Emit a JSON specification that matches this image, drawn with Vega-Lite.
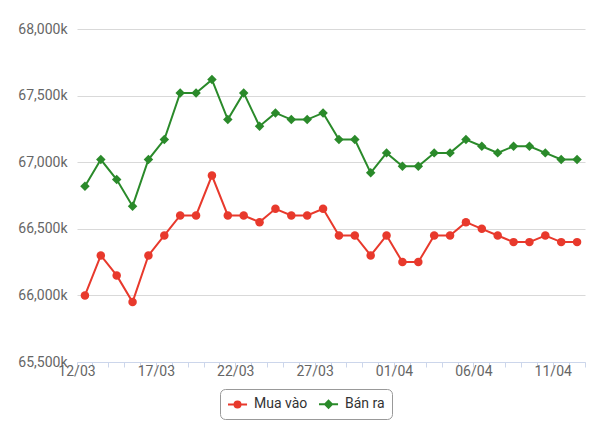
{
  "$schema": "https://vega.github.io/schema/vega-lite/v6.json",
  "autosize": "none",
  "width": 508,
  "height": 333,
  "padding": {"left": 77, "top": 29, "right": 15, "bottom": 69},
  "background": "white",
  "config": {
    "view": {"stroke": null},
    "font": "Roboto",
    "legend": {
      "title": null,
      "orient": "none",
      "legendX": 143,
      "legendY": 360,
      "direction": "horizontal",
      "strokeColor": "#999999",
      "cornerRadius": 5,
      "fillColor": "white",
      "padding": 7,
      "symbolSize": 196,
      "symbolStrokeWidth": 2,
      "symbolOpacity": 1,
      "labelFontSize": 14,
      "labelColor": "#333333",
      "labelFont": "Roboto",
      "labelOffset": 11,
      "columnPadding": 7
    }
  },
  "datasets": {
    "gia": [
      {"ngay": "12/03", "loai": "Mua vào", "gia": 66000},
      {"ngay": "13/03", "loai": "Mua vào", "gia": 66300},
      {"ngay": "14/03", "loai": "Mua vào", "gia": 66150},
      {"ngay": "15/03", "loai": "Mua vào", "gia": 65950},
      {"ngay": "16/03", "loai": "Mua vào", "gia": 66300},
      {"ngay": "17/03", "loai": "Mua vào", "gia": 66450},
      {"ngay": "18/03", "loai": "Mua vào", "gia": 66600},
      {"ngay": "19/03", "loai": "Mua vào", "gia": 66600},
      {"ngay": "20/03", "loai": "Mua vào", "gia": 66900},
      {"ngay": "21/03", "loai": "Mua vào", "gia": 66600},
      {"ngay": "22/03", "loai": "Mua vào", "gia": 66600},
      {"ngay": "23/03", "loai": "Mua vào", "gia": 66550},
      {"ngay": "24/03", "loai": "Mua vào", "gia": 66650},
      {"ngay": "25/03", "loai": "Mua vào", "gia": 66600},
      {"ngay": "26/03", "loai": "Mua vào", "gia": 66600},
      {"ngay": "27/03", "loai": "Mua vào", "gia": 66650},
      {"ngay": "28/03", "loai": "Mua vào", "gia": 66450},
      {"ngay": "29/03", "loai": "Mua vào", "gia": 66450},
      {"ngay": "30/03", "loai": "Mua vào", "gia": 66300},
      {"ngay": "31/03", "loai": "Mua vào", "gia": 66450},
      {"ngay": "01/04", "loai": "Mua vào", "gia": 66250},
      {"ngay": "02/04", "loai": "Mua vào", "gia": 66250},
      {"ngay": "03/04", "loai": "Mua vào", "gia": 66450},
      {"ngay": "04/04", "loai": "Mua vào", "gia": 66450},
      {"ngay": "05/04", "loai": "Mua vào", "gia": 66550},
      {"ngay": "06/04", "loai": "Mua vào", "gia": 66500},
      {"ngay": "07/04", "loai": "Mua vào", "gia": 66450},
      {"ngay": "08/04", "loai": "Mua vào", "gia": 66400},
      {"ngay": "09/04", "loai": "Mua vào", "gia": 66400},
      {"ngay": "10/04", "loai": "Mua vào", "gia": 66450},
      {"ngay": "11/04", "loai": "Mua vào", "gia": 66400},
      {"ngay": "12/04", "loai": "Mua vào", "gia": 66400},
      {"ngay": "12/03", "loai": "Bán ra", "gia": 66820},
      {"ngay": "13/03", "loai": "Bán ra", "gia": 67020},
      {"ngay": "14/03", "loai": "Bán ra", "gia": 66870},
      {"ngay": "15/03", "loai": "Bán ra", "gia": 66670},
      {"ngay": "16/03", "loai": "Bán ra", "gia": 67020},
      {"ngay": "17/03", "loai": "Bán ra", "gia": 67170},
      {"ngay": "18/03", "loai": "Bán ra", "gia": 67520},
      {"ngay": "19/03", "loai": "Bán ra", "gia": 67520},
      {"ngay": "20/03", "loai": "Bán ra", "gia": 67620},
      {"ngay": "21/03", "loai": "Bán ra", "gia": 67320},
      {"ngay": "22/03", "loai": "Bán ra", "gia": 67520},
      {"ngay": "23/03", "loai": "Bán ra", "gia": 67270},
      {"ngay": "24/03", "loai": "Bán ra", "gia": 67370},
      {"ngay": "25/03", "loai": "Bán ra", "gia": 67320},
      {"ngay": "26/03", "loai": "Bán ra", "gia": 67320},
      {"ngay": "27/03", "loai": "Bán ra", "gia": 67370},
      {"ngay": "28/03", "loai": "Bán ra", "gia": 67170},
      {"ngay": "29/03", "loai": "Bán ra", "gia": 67170},
      {"ngay": "30/03", "loai": "Bán ra", "gia": 66920},
      {"ngay": "31/03", "loai": "Bán ra", "gia": 67070},
      {"ngay": "01/04", "loai": "Bán ra", "gia": 66970},
      {"ngay": "02/04", "loai": "Bán ra", "gia": 66970},
      {"ngay": "03/04", "loai": "Bán ra", "gia": 67070},
      {"ngay": "04/04", "loai": "Bán ra", "gia": 67070},
      {"ngay": "05/04", "loai": "Bán ra", "gia": 67170},
      {"ngay": "06/04", "loai": "Bán ra", "gia": 67120},
      {"ngay": "07/04", "loai": "Bán ra", "gia": 67070},
      {"ngay": "08/04", "loai": "Bán ra", "gia": 67120},
      {"ngay": "09/04", "loai": "Bán ra", "gia": 67120},
      {"ngay": "10/04", "loai": "Bán ra", "gia": 67070},
      {"ngay": "11/04", "loai": "Bán ra", "gia": 67020},
      {"ngay": "12/04", "loai": "Bán ra", "gia": 67020}
    ]
  },
  "data": {"name": "gia"},
  "encoding": {
    "x": {
      "field": "ngay",
      "type": "ordinal",
      "sort": null,
      "scale": {"type": "band", "paddingInner": 0, "paddingOuter": 0},
      "axis": {
        "title": null,
        "bandPosition": 1,
        "tickExtra": true,
        "labelOffset": -7.94,
        "labelAngle": 0,
        "labelOverlap": false,
        "labelExpr": "indexof(['12/03','17/03','22/03','27/03','01/04','06/04','11/04'], datum.value) >= 0 ? datum.value : ''",
        "labelFontSize": 14,
        "labelColor": "#666666",
        "labelFont": "Roboto",
        "labelPadding": -3,
        "tickSize": 5,
        "tickColor": "#ccd6eb",
        "domainColor": "#ccd6eb",
        "grid": false
      }
    },
    "y": {
      "field": "gia",
      "type": "quantitative",
      "scale": {"domain": [65500, 68000], "nice": false, "zero": false},
      "axis": {
        "title": null,
        "values": [65500, 66000, 66500, 67000, 67500, 68000],
        "labelExpr": "format(datum.value, ',') + 'k'",
        "labelFontSize": 14,
        "labelColor": "#666666",
        "labelFont": "Roboto",
        "labelPadding": 10,
        "ticks": false,
        "domain": false,
        "grid": true,
        "gridColor": "#d9d9d9",
        "gridWidth": 1
      }
    },
    "color": {
      "field": "loai",
      "type": "nominal",
      "scale": {"domain": ["Mua vào", "Bán ra"], "range": ["#e8392c", "#2a8a2a"]}
    }
  },
  "layer": [
    {"mark": {"type": "line", "strokeWidth": 2}},
    {
      "transform": [{"filter": "datum.loai === 'Mua vào'"}],
      "mark": {"type": "point", "shape": "circle", "filled": true, "opacity": 1, "size": 72}
    },
    {
      "transform": [{"filter": "datum.loai === 'Bán ra'"}],
      "mark": {"type": "point", "shape": "diamond", "filled": true, "opacity": 1, "size": 90}
    },
    {
      "transform": [{"filter": "false"}],
      "mark": {"type": "point", "filled": false, "strokeWidth": 2},
      "encoding": {
        "shape": {
          "field": "loai",
          "type": "nominal",
          "scale": {
            "domain": ["Mua vào", "Bán ra"],
            "range": [
              "M-1,0H1.72M0.79,0A0.43,0.43,0,1,1,-0.07,0A0.43,0.43,0,1,1,0.79,0ZM0.53,0A0.17,0.17,0,1,1,0.19,0A0.17,0.17,0,1,1,0.53,0Z",
              "M-1,0H1.72M0.36,-0.5L0.86,0L0.36,0.5L-0.14,0ZM0.36,-0.2L0.56,0L0.36,0.2L0.16,0Z"
            ]
          }
        }
      }
    }
  ]
}
